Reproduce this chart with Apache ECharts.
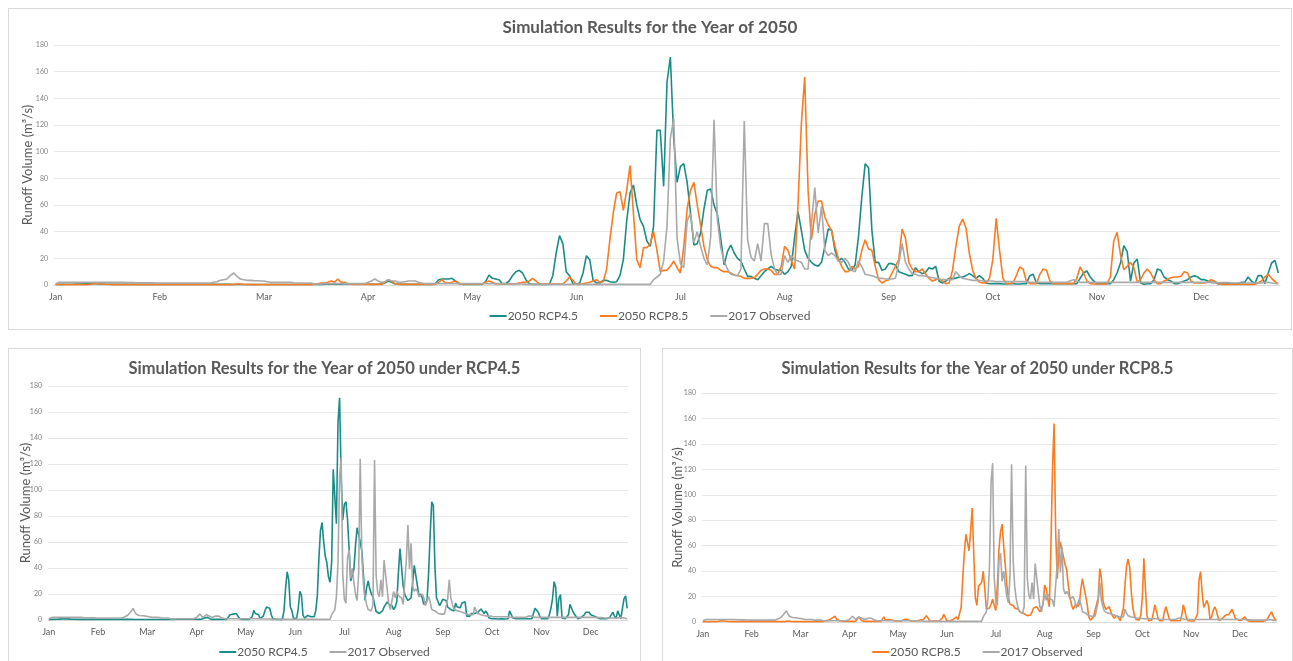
<!DOCTYPE html>
<html>
<head>
<meta charset="utf-8">
<script src="https://cdn.jsdelivr.net/npm/echarts@6/dist/echarts.min.js"></script>
<style>
  body { margin: 0; background: #fff; overflow: hidden; }
  .panel { position: absolute; border: 1px solid #d9d9d9; box-sizing: border-box; background: #fff; }
</style>
</head>
<body>
<div class="panel" id="top" style="left:8px;top:8px;width:1284px;height:322px;"></div>
<div class="panel" id="bl" style="left:8px;top:348px;width:633px;height:330px;"></div>
<div class="panel" id="br" style="left:662px;top:348px;width:631px;height:330px;"></div>
<script>
// month tick labels, one label every 31 days like the excel sheet
const monthNames = ['Jan', 'Feb', 'Mar', 'Apr', 'May', 'Jun', 'Jul', 'Aug', 'Sep', 'Oct', 'Nov', 'Dec']
const monthDays = [31, 28, 31, 30, 31, 30, 31, 31, 30, 31, 30, 31]
const yTicks = [0, 20, 40, 60, 80, 100, 120, 140, 160, 180]

// daily runoff (m3/s)
const rcp45 = [
  0.5, 0.5, 0.5, 0.6, 0.6, 0.6, 0.7, 0.8, 0.9, 1,
  1, 1, 0.9, 0.8, 0.7, 0.6, 0.6, 0.5, 0.5, 0.5,
  0.5, 0.5, 0.5, 0.5, 0.5, 0.5, 0.5, 0.5, 0.5, 0.5,
  0.5, 0.5, 0.5, 0.5, 0.5, 0.5, 0.5, 0.5, 0.5, 0.5,
  0.5, 0.5, 0.5, 0.5, 0.5, 0.5, 0.5, 0.5, 0.5, 0.5,
  0.5, 0.5, 0.5, 0.4, 0.4, 0.4, 0.4, 0.4, 0.4, 0.4,
  0.4, 0.4, 0.4, 0.4, 0.4, 0.4, 0.4, 0.4, 0.4, 0.4,
  0.4, 0.4, 0.4, 0.4, 0.4, 0.5, 0.5, 0.5, 0.5, 0.5,
  0.6, 0.6, 0.6, 0.6, 0.6, 0.6, 0.7, 0.7, 0.7, 0.7,
  0.7, 0.7, 0.6, 0.6, 0.5, 0.5, 0.6, 1, 1.5, 3,
  2, 1, 0.5, 0.5, 0.5, 0.5, 0.5, 0.5, 0.5, 0.5,
  0.5, 0.5, 0.5, 1, 4, 4.5, 4.5, 4.5, 5, 3,
  1, 0.5, 0.5, 0.5, 0.5, 0.5, 0.5, 0.5, 2.5, 7.5,
  5, 4.5, 4, 1, 1, 3, 7, 10, 11, 9,
  4, 1, 0.5, 0.5, 0.5, 0.5, 0.5, 0.5, 7, 24,
  37, 31, 10, 7, 1, 0.5, 1.5, 9, 22, 19,
  3.5, 1.5, 1.5, 3.5, 3.5, 2.5, 2, 2.5, 7, 19,
  48, 69, 75, 60, 49, 44, 33, 29, 44, 116,
  116, 74, 152, 171, 110, 77, 89, 91, 77, 54,
  30, 31, 39, 57, 71, 72, 60, 53, 35, 15,
  25, 30, 24, 20, 18, 12, 6.5, 6.5, 5, 4,
  7, 10, 12, 14, 12, 11, 11, 8, 10, 14,
  36, 55, 41, 26, 20, 17, 15, 14, 17, 29,
  42, 41, 26, 18, 20, 17, 12, 11, 15, 36,
  66, 91, 88, 41, 17, 17, 11, 12, 16, 16,
  15, 10, 9, 8, 7, 7, 13, 10, 8.5, 9.5,
  13, 12, 14, 3, 1.5, 3, 5, 5, 5, 6,
  6, 7, 8.5, 7, 5, 7, 5, 1.5, 1, 1,
  1, 1, 0.8, 0.8, 1, 1, 0.8, 0.8, 1, 1,
  7, 8, 1.5, 1, 1, 1, 1, 1, 1, 1,
  1, 1, 1, 1, 1, 5, 9, 10.5, 6, 3,
  1, 1, 1, 1, 1, 4, 9, 16.5, 29.5, 25,
  3, 16.5, 19.5, 1.5, 0.5, 1, 1, 4, 12, 11,
  6, 4, 3, 1, 1, 2, 3, 4, 6, 7,
  6, 4, 4, 3, 2, 2, 1, 1, 1, 1,
  1, 1, 1, 2, 2, 6, 3, 1, 7, 7,
  1, 9, 16.5, 18.5, 9
]

const rcp85 = [
  0.3, 0.3, 0.3, 0.3, 0.3, 0.3, 0.3, 0.3, 0.3, 0.3,
  0.5, 0.8, 1, 1, 0.8, 0.5, 0.4, 0.3, 0.3, 0.3,
  0.3, 0.3, 0.3, 0.3, 0.3, 0.3, 0.3, 0.3, 0.3, 0.3,
  0.3, 0.3, 0.3, 0.3, 0.3, 0.3, 0.3, 0.3, 0.3, 0.3,
  0.3, 0.3, 0.3, 0.3, 0.3, 0.3, 0.3, 0.3, 0.3, 0.3,
  0.3, 0.3, 0.3, 0.5, 0.8, 0.8, 0.5, 0.3, 0.3, 0.3,
  0.3, 0.3, 0.3, 0.3, 0.3, 0.3, 0.3, 0.3, 0.3, 0.3,
  0.3, 0.3, 0.3, 0.3, 0.3, 0.3, 0.3, 0.5, 1, 1.5,
  1.5, 2, 3, 2, 4.5, 2, 2, 1, 0.5, 0.5,
  0.5, 0.5, 0.5, 0.5, 0.5, 0.5, 0.5, 0.5, 2, 4,
  3, 1, 0.5, 0.5, 0.5, 0.5, 0.5, 0.5, 0.5, 0.5,
  0.5, 0.5, 0.5, 0.5, 2, 4, 1.5, 1.5, 2, 3,
  1.5, 0.8, 0.8, 0.8, 0.8, 0.8, 0.8, 0.8, 2, 3,
  2, 0.8, 0.8, 0.8, 0.8, 0.8, 0.8, 0.8, 1.5, 2,
  2, 3, 5, 3, 0.8, 0.8, 0.8, 0.8, 0.8, 0.8,
  0.8, 0.8, 3, 6, 3.5, 0.5, 0.5, 1, 1.5, 2,
  3, 4, 2, 2.5, 11.5, 34, 54, 69, 70, 56,
  71, 89.5, 54, 19, 13, 28, 28, 31, 40, 26,
  10, 11, 11, 14, 18, 13, 9, 29, 57, 71,
  77, 60, 45, 29, 19, 14, 13, 13, 11, 10,
  10, 9, 7.5, 7, 6.5, 5, 5, 5, 5.5, 8,
  11, 12, 12, 11, 8, 8, 14, 29, 26, 18,
  12, 60, 121, 156, 71, 34, 53, 63, 63, 51,
  45, 41, 29, 20, 14, 10, 10, 14, 12, 14,
  26, 34, 27, 26, 14, 4, 1.5, 3, 4, 9,
  14, 19, 42, 35, 17, 12, 10, 10, 12, 8,
  5, 3, 4, 5, 3, 1, 1.5, 11, 29, 44,
  49.5, 43, 24, 11, 5, 2, 1.5, 1.5, 5, 19,
  50, 26, 5, 1, 1, 1.5, 7, 13.5, 12, 3,
  1, 1, 1, 8, 12, 11, 3, 1, 1, 1,
  1, 1, 1, 1, 5, 13.5, 9, 3, 1, 0.8,
  0.8, 0.8, 0.8, 0.8, 6, 33, 39.5, 23, 11.5, 14,
  17, 13, 2, 4, 9, 12, 9, 4, 1, 1,
  3, 4, 5.5, 6, 6, 6.5, 10, 9, 3, 1.5,
  1.5, 1.5, 1.5, 2, 4, 3, 1, 0.5, 0.5, 0.5,
  0.5, 0.5, 0.5, 0.5, 0.5, 0.5, 0.5, 0.5, 1.5, 3,
  6, 8, 5, 2.5, 1
]

const obs2017 = [
  1, 2, 2, 2, 2, 2, 2, 2, 2, 2,
  2, 2, 2, 2, 2, 2, 2, 2, 2, 2,
  2, 1.8, 1.8, 1.8, 1.7, 1.7, 1.7, 1.6, 1.6, 1.6,
  1.5, 1.5, 1.5, 1.5, 1.5, 1.5, 1.5, 1.5, 1.5, 1.5,
  1.5, 1.5, 1.5, 1.5, 1.5, 1.5, 1.5, 2, 2.5, 3.5,
  4, 4.5, 7, 9, 6.5, 4.5, 4, 3.5, 3.5, 3.3,
  3.2, 3, 3, 2.5, 2, 2, 2, 2, 2, 2,
  2, 1.5, 1.5, 1.5, 1.5, 1.5, 1.5, 0.8, 0.8, 0.8,
  1, 1, 1, 1, 1, 1, 1, 1, 1, 1,
  1, 1, 1, 2, 3, 4.5, 3, 2, 2.5, 4,
  3, 3, 2, 2, 2.5, 3, 3, 3, 2, 1.5,
  1, 1, 1, 1, 1, 1, 1, 1, 1, 1,
  1, 1, 1, 1, 1, 1, 1, 1, 1, 1,
  1, 1, 1, 1, 0.8, 0.8, 0.8, 0.8, 0.8, 0.8,
  0.5, 0.5, 0.5, 0.5, 0.5, 0.5, 0.5, 0.5, 0.5, 0.5,
  0.5, 0.5, 0.5, 0.5, 0.5, 0.5, 0.5, 0.5, 0.5, 0.5,
  0.5, 0.5, 0.5, 0.5, 0.5, 0.5, 0.5, 0.5, 0.5, 0.5,
  0.5, 0.5, 0.5, 0.5, 0.5, 0.5, 0.5, 0.5, 4, 6,
  8, 18, 44, 110, 125, 35, 16, 13, 48, 54,
  32, 40, 29, 20, 15, 36, 124, 49, 28, 18,
  12, 8, 7.5, 7, 12, 123, 34, 21, 18, 31,
  18, 46, 46, 23, 12, 8, 8, 22, 17, 22,
  19, 18, 17, 12, 12, 46, 73, 39, 59, 26,
  22, 24, 22, 18, 17, 20, 17, 11, 10, 18,
  14, 8, 7.5, 7, 6, 5, 5, 4.5, 4.5, 4.5,
  5, 16, 31, 17, 12, 8.5, 8, 7, 7, 6.5,
  6, 5.5, 5, 4.5, 4, 4, 4, 4, 10, 7,
  5, 4.5, 4, 3.5, 3.5, 3.5, 3, 3, 3, 3,
  2.5, 2.5, 2.5, 2.5, 2.5, 2.5, 2.5, 2.5, 2.5, 2.5,
  2, 2, 2, 2, 2, 2, 2, 2, 2, 2,
  2, 2, 3, 4, 3, 2, 2, 2, 2, 2,
  2, 2, 2, 2, 2, 2, 2, 2, 2, 2,
  2, 2, 2, 2, 2, 2, 2, 2, 2, 2,
  2, 2, 2, 2, 2, 2, 2, 2, 2, 2,
  2, 2, 2, 2, 2, 1.8, 1.8, 1.8, 1.8, 1.8,
  1.5, 1.5, 1.5, 1.5, 1.5, 1.5, 1.5, 1.5, 1.5, 1.5,
  2, 2, 1.5, 1.2, 1
]

const FONT = 'Lato'
const colors = { rcp45: '#1a8c87', rcp85: '#fa7b22', obs: '#a9a9a9' }

// one category per day, labelled with its month
let days = []
monthDays.forEach((n, m) => {
  for (let d = 0; d < n; d++) days.push(monthNames[m])
})

function lineSeries(name, data, color) {
  return {
    name: name,
    type: 'line',
    data: data,
    symbol: 'none',
    smooth: false,
    lineStyle: { color: color, width: 1.6 },
    itemStyle: { color: color },
  }
}

function makeOption(p) {
  return {
    animation: false,
    textStyle: { fontFamily: FONT },
    title: {
      text: p.title,
      left: 'center',
      top: p.titleTop,
      textStyle: { fontFamily: FONT, fontSize: p.titleSize, fontWeight: 'bold', color: '#595959' },
    },
    legend: {
      top: p.legendTop,
      left: 'center',
      icon: 'rect',
      itemWidth: 17,
      itemHeight: 2,
      itemGap: 22,
      textStyle: { fontFamily: FONT, fontSize: 12, color: '#595959', padding: [0, 0, 0, -4] },
    },
    grid: p.grid,
    xAxis: {
      type: 'category',
      data: days,
      boundaryGap: true,
      axisLine: { lineStyle: { color: '#d9d9d9' } },
      axisTick: { show: false },
      axisLabel: { interval: 30, fontSize: 9, color: '#595959', margin: 8 },
      splitLine: { show: false },
    },
    yAxis: {
      type: 'value',
      min: yTicks[0],
      max: yTicks[yTicks.length - 1],
      interval: yTicks[1] - yTicks[0],
      name: 'Runoff Volume (m³/s)',
      nameLocation: 'middle',
      nameGap: p.nameGap,
      nameMoveOverlap: false,
      nameTextStyle: { fontFamily: FONT, fontSize: 13, color: '#595959' },
      axisLine: { show: false },
      axisTick: { show: false },
      axisLabel: { fontSize: 7, color: '#7f7f7f', margin: 6 },
      splitLine: { lineStyle: { color: '#e8e8e8' } },
    },
    series: p.series,
  }
}

const topChart = echarts.init(document.getElementById('top'))
topChart.setOption(makeOption({
  title: 'Simulation Results for the Year of 2050',
  titleTop: 5,
  titleSize: 17,
  legendTop: 296,
  grid: { left: 45, right: 11, top: 36, bottom: 44 },
  nameGap: 20,
  series: [
    lineSeries('2050 RCP4.5', rcp45, colors.rcp45),
    lineSeries('2050 RCP8.5', rcp85, colors.rcp85),
    lineSeries('2017 Observed', obs2017, colors.obs),
  ],
}))

const blChart = echarts.init(document.getElementById('bl'))
blChart.setOption(makeOption({
  title: 'Simulation Results for the Year of 2050 under RCP4.5',
  titleTop: 6,
  titleSize: 16.5,
  legendTop: 292,
  grid: { left: 39, right: 12, top: 37, bottom: 57 },
  nameGap: 16,
  series: [
    lineSeries('2050 RCP4.5', rcp45, colors.rcp45),
    lineSeries('2017 Observed', obs2017, colors.obs),
  ],
}))

const brChart = echarts.init(document.getElementById('br'))
brChart.setOption(makeOption({
  title: 'Simulation Results for the Year of 2050 under RCP8.5',
  titleTop: 6,
  titleSize: 16.5,
  legendTop: 292,
  grid: { left: 39, right: 15, top: 44, bottom: 55 },
  nameGap: 18,
  series: [
    lineSeries('2050 RCP8.5', rcp85, colors.rcp85),
    lineSeries('2017 Observed', obs2017, colors.obs),
  ],
}))
</script>
</body>
</html>
